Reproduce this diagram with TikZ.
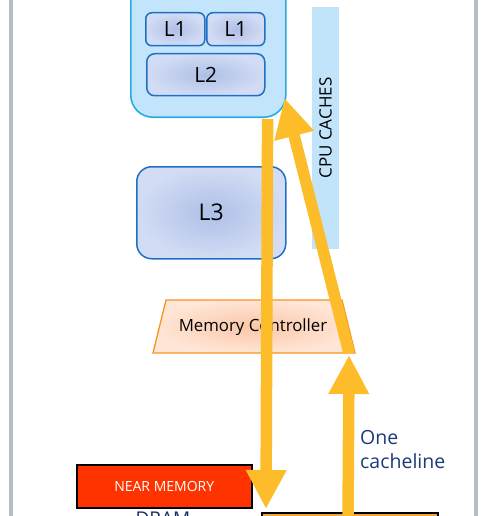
\documentclass[tikz,border=0pt]{standalone}
\usepackage{fontspec}
\setmainfont{Open Sans}
\usetikzlibrary{arrows.meta}

\definecolor{coreblue}{HTML}{C3E5FB}
\definecolor{corestroke}{HTML}{2AAAE2}
\definecolor{cacheinner}{HTML}{AEBFE6}
\definecolor{cacheouter}{HTML}{D2DCF4}
\definecolor{cachestroke}{HTML}{1F6FC4}
\definecolor{barblue}{HTML}{C1E4FB}
\definecolor{mcinner}{HTML}{FBC6A8}
\definecolor{mcouter}{HTML}{FFE6D6}
\definecolor{mcstroke}{HTML}{F7941D}
\definecolor{arrowyellow}{HTML}{FDBD2B}
\definecolor{nearred}{HTML}{FF3300}
\definecolor{farorange}{HTML}{F4A63A}
\definecolor{framegray}{HTML}{B5BEC2}
\definecolor{textblue}{HTML}{1B3A7A}

\begin{document}
\begin{tikzpicture}[x=1pt, y=-1pt,
        corebox/.style={draw=corestroke, line width=1.6pt, fill=coreblue, rounded corners=22pt, inner sep=0pt},
        cachebox/.style={draw=cachestroke, line width=1.5pt, inner color=cacheinner, outer color=cacheouter, rounded corners=6pt, inner sep=0pt, font=\fontsize{21}{21}\selectfont},
        cachebar/.style={fill=barblue, inner sep=0pt, font=\fontsize{17}{17}\selectfont},
        mcshape/.style={draw=mcstroke, line width=1.3pt, inner color=mcinner, outer color=mcouter},
        nearbox/.style={draw=black, line width=1.5pt, fill=nearred, inner sep=0pt, text=white, font=\fontsize{14}{14}\selectfont},
        farbox/.style={draw=black, line width=1.5pt, fill=farorange, inner sep=0pt},
        frameline/.style={draw=framegray, line width=4pt},
        bigarrow/.style={draw=arrowyellow, line width=11.5pt, -{Triangle[width=38pt, length=39pt]}}
    ]
    \useasboundingbox (0,0) rectangle (500,516);

    % side frame
    \draw[frameline] (11,-5) -- (11,525);
    \draw[frameline] (476,-5) -- (476,525);

    % core with L1 / L2
    \node[corebox, minimum width=155, minimum height=160, anchor=south west] (core) at (130,118) {};
    \node[cachebox, minimum width=59, minimum height=33, anchor=north west] (l1a) at (145,12) {L1};
    \node[cachebox, minimum width=58, minimum height=33, anchor=north west] (l1b) at (206,12) {L1};
    \node[cachebox, rounded corners=8pt, minimum width=118, minimum height=42, anchor=north west] (l2) at (146,53) {L2};
    \node[cachebox, rounded corners=15pt, minimum width=149, minimum height=92, anchor=north west, font=\fontsize{23}{23}\selectfont] (l3) at (136,166) {L3};

    \node[cachebar, rotate=90, minimum width=242, minimum height=27] (caches) at (325.5,128) {CPU CACHES};

    % memory controller
    \coordinate (mc sw) at (153,353);
    \coordinate (mc se) at (355,353);
    \coordinate (mc ne) at (342,300);
    \coordinate (mc nw) at (166,300);
    \path[mcshape] (mc sw) -- (mc se) -- (mc ne) -- (mc nw) -- cycle;
    \node[font=\fontsize{16.8}{16.8}\selectfont] (mc) at (253,327) {Memory Controller};

    % memories
    \node[nearbox, minimum width=175, minimum height=43, anchor=north west] (near) at (76,464) {NEAR MEMORY};
    \node[anchor=north, inner sep=0pt, text=textblue!80!black, font=\fontsize{19}{19}\selectfont] (dram) at (163,512) {DRAM};
    \node[farbox, minimum width=176, minimum height=40, anchor=north west] (far) at (261,512) {};

    % data path
    \draw[bigarrow] ([xshift=-19pt, yshift=-1pt]core.south east) -- ([xshift=5pt, yshift=3pt]far.north west);
    \draw[bigarrow] ([xshift=87pt, yshift=-10pt]far.north west) -- ([xshift=-6pt, yshift=-2pt]mc se);
    \draw[bigarrow] ([xshift=-6pt]mc se) -- ([xshift=-2pt, yshift=20pt]core.south east);

    \node[align=left, anchor=north west, inner sep=0pt, text=textblue, font=\fontsize{19.5}{24}\selectfont] (cacheline) at (360,430) {One\\cacheline};
\end{tikzpicture}
\end{document}
